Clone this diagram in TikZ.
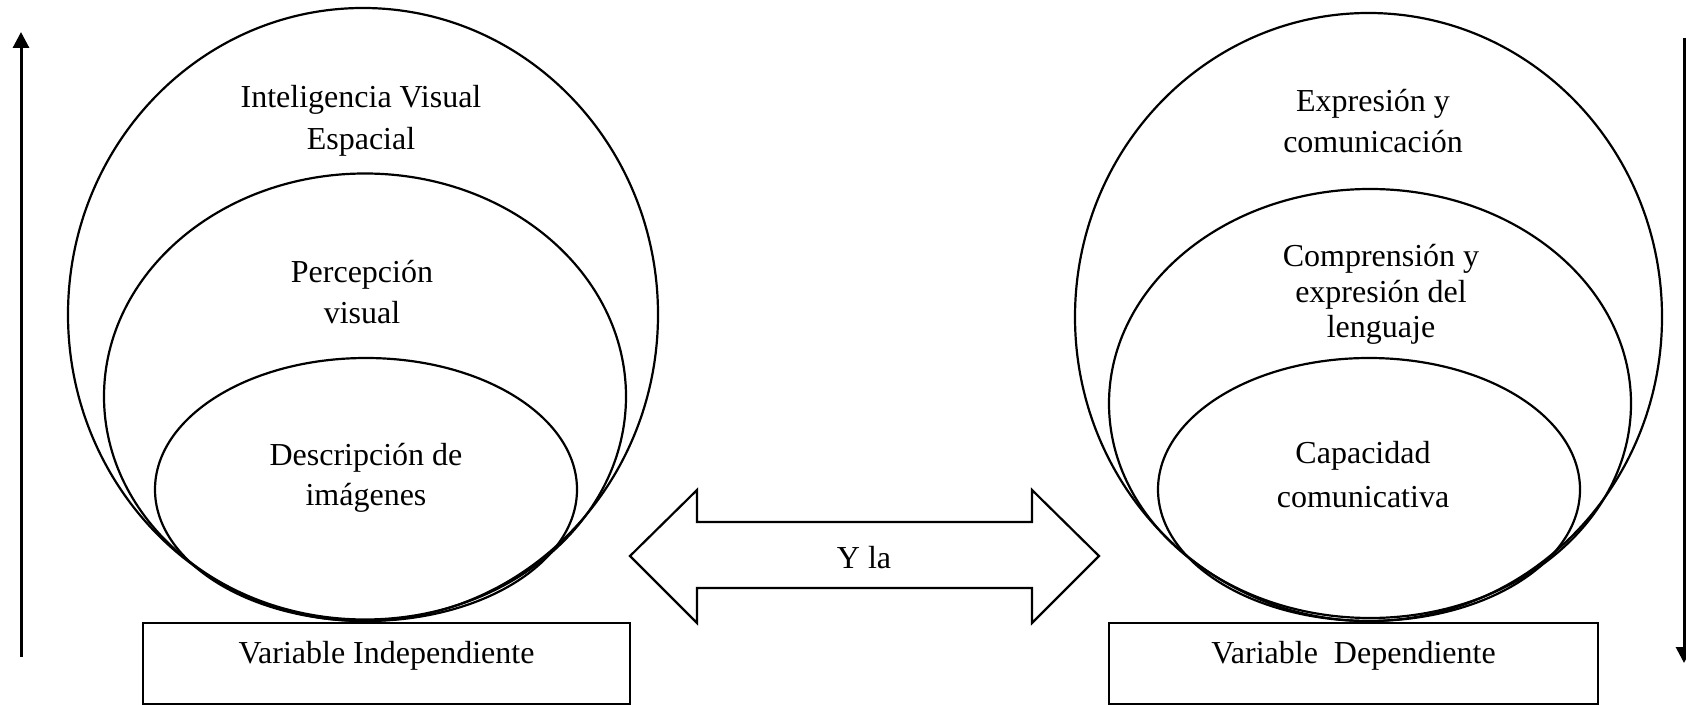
\documentclass[tikz,border=0pt]{standalone}
\usepackage{fontspec}
\setmainfont{Liberation Serif}
\usetikzlibrary{shapes.geometric,arrows.meta}
\tikzset{
  ring/.style={draw, ellipse, line width=1.1pt, inner sep=0pt},
  varbox/.style={draw, line width=1.1pt},
  lbl/.style={anchor=base, inner sep=0pt, font=\fontsize{16}{19}\selectfont},
  axis/.style={line width=1.5pt, -{Triangle[length=8pt,width=8pt]}},
  biarrow/.style={draw, line width=1.1pt, line join=miter}
}
\begin{document}
\begin{tikzpicture}[x=0.5pt,y=-0.5pt]
\useasboundingbox (0,0) rectangle (1686,705);
% left ellipses
\node[ring, minimum width=295pt, minimum height=306.5pt] (lo) at (363,314.5) {};
\node[ring, minimum width=261pt, minimum height=223pt] (lm) at (365,396.5) {};
\node[ring, minimum width=211pt, minimum height=131.5pt] (li) at (366,489.5) {};
% right ellipses
\node[ring, minimum width=293.5pt, minimum height=304pt] (ro) at (1368.5,317) {};
\node[ring, minimum width=261pt, minimum height=214.5pt] (rm) at (1370,403.5) {};
\node[ring, minimum width=211pt, minimum height=131.5pt] (ri) at (1369,489.5) {};
% boxes
\draw[varbox] (143,623) rectangle (630,704);
\draw[varbox] (1109,623) rectangle (1598,704);
\coordinate (lbc) at (386.5,663);
\coordinate (rbc) at (1353.5,663);
\node[lbl] (vi) at (lbc) {Variable Independiente};
\node[lbl] (vd) at (rbc) {Variable~~Dependiente};
% double arrow
\draw[biarrow] (630,556) -- (697,490) -- (697,522) -- (1032,522) -- (1032,490) -- (1099,556)
  -- (1032,623) -- (1032,588) -- (697,588) -- (697,623) -- cycle;
\node[lbl] (yla) at (864,568) {Y la};
% side arrows
\coordinate (la0) at (21,657);
\coordinate (la1) at (21,32);
\draw[axis] (la0) -- (la1);
\coordinate (ra0) at (1684,38);
\coordinate (ra1) at (1684,663);
\draw[axis] (ra0) -- (ra1);
% left texts
\node[lbl] (t1a) at (361,108) {Inteligencia Visual};
\node[lbl] (t1b) at (361,150) {Espacial};
\node[lbl] (t2a) at (362,283) {Percepción};
\node[lbl] (t2b) at (362,324) {visual};
\node[lbl] (t3a) at (366,466) {Descripción de};
\node[lbl] (t3b) at (366,505) {imágenes};
% right texts
\node[lbl] (s1a) at (1373,112) {Expresión y};
\node[lbl] (s1b) at (1373,153) {comunicación};
\node[lbl] (s2a) at (1381,267) {Comprensión y};
\node[lbl] (s2b) at (1381,303) {expresión del};
\node[lbl] (s2c) at (1381,338) {lenguaje};
\node[lbl] (s3a) at (1363,464) {Capacidad};
\node[lbl] (s3b) at (1363,507) {comunicativa};
\end{tikzpicture}
\end{document}
